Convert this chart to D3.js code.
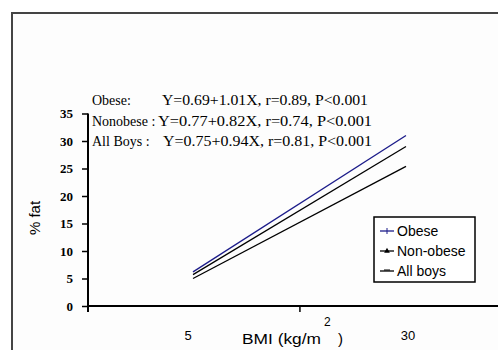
<!DOCTYPE html>
<html><head><meta charset="utf-8">
<script src="https://cdn.jsdelivr.net/npm/d3@7"></script>
<style>html,body{margin:0;padding:0;background:#fff;}svg{display:block;}</style>
</head><body>
<svg id="c" width="498" height="350"></svg>
<script>
// ---- data ----
const seriesNames = ["Obese", "Non-obese", "All boys"];
const bmi = [5, 30];
const obeseFat = [6.2, 31.0];
const nonObeseFat = [5.0, 25.4];
const allBoysFat = [5.7, 29.0];
const seriesColors = ["#1c1c8a", "#000000", "#000000"];
const yTicks = [0, 5, 10, 15, 20, 25, 30, 35];
const xTickLabels = [5, 30];
const eqNames = ["Obese:", "Nonobese :", "All Boys :"];
const eqTexts = ["Y=0.69+1.01X, r=0.89, P<0.001", "Y=0.77+0.82X, r=0.74, P<0.001", "Y=0.75+0.94X, r=0.81, P<0.001"];

const svg = d3.select("#c");
// outer frame
svg.append("rect").attr("x", 12).attr("y", 13).attr("width", 500).attr("height", 350)
  .attr("fill", "#fdfdfd").attr("stroke", "#444").attr("stroke-width", 2);

const x = d3.scaleLinear().domain([5, 30]).range([193, 406]);
const y = d3.scaleLinear().domain([0, 35]).range([306, 113.5]);
const axisX = 88;

// y axis
const yAxis = d3.axisLeft(y).tickValues(yTicks).tickSize(6).tickFormat(d3.format("d"));
const ga = svg.append("g").attr("transform", `translate(${axisX},0)`).call(yAxis);
ga.select(".domain").remove();
ga.selectAll(".tick line").attr("stroke", "#000").attr("stroke-width", 1.5);
ga.selectAll(".tick text").attr("x", -15).attr("font-family", "Liberation Serif, serif")
  .attr("font-weight", "bold").attr("font-size", 13).attr("fill", "#000");
svg.append("line").attr("x1", axisX).attr("x2", axisX).attr("y1", y(35)).attr("y2", y(0) + 6)
  .attr("stroke", "#000").attr("stroke-width", 2);

// x axis
svg.append("line").attr("x1", axisX).attr("x2", 498).attr("y1", y(0)).attr("y2", y(0))
  .attr("stroke", "#000").attr("stroke-width", 2);
svg.append("line").attr("x1", x(17.55)).attr("x2", x(17.55)).attr("y1", y(0)).attr("y2", y(0) + 6)
  .attr("stroke", "#000").attr("stroke-width", 1.5);
svg.selectAll(".xl").data(xTickLabels).enter().append("text")
  .attr("x", d => x(d) + (d === 5 ? -5 : 2)).attr("y", 340).attr("text-anchor", "middle")
  .attr("font-family", "Liberation Sans, Arial, sans-serif").attr("font-size", 13).text(d => d);

// axis titles
svg.append("text").attr("transform", "translate(40,218) rotate(-90)").attr("text-anchor", "middle")
  .attr("font-family", "Liberation Sans, Arial, sans-serif").attr("font-size", 15).text("% fat");
const sansFont = "Liberation Sans, Arial, sans-serif";
svg.append("text").attr("x", 242).attr("y", 344).attr("font-family", sansFont).attr("font-size", 15)
  .attr("textLength", 79).attr("lengthAdjust", "spacingAndGlyphs").text("BMI (kg/m");
svg.append("text").attr("x", 324).attr("y", 326).attr("font-family", sansFont).attr("font-size", 12).text("2");
svg.append("text").attr("x", 338).attr("y", 344).attr("font-family", sansFont).attr("font-size", 15).text(")");

// series lines
const seriesData = [obeseFat, nonObeseFat, allBoysFat];
const line = d3.line().x((d, i) => x(bmi[i])).y(d => y(d));
svg.selectAll(".s").data(seriesData).enter().append("path")
  .attr("d", d => line(d)).attr("fill", "none")
  .attr("stroke", (d, i) => seriesColors[i]).attr("stroke-width", 1.3);

// equations
const eqY = [100, 121, 141];
const eqX = [162, 158, 163];
const eqEnd = [368, 372, 372];
eqNames.forEach((n, i) => {
  svg.append("text").attr("x", 92).attr("y", eqY[i] + 5).attr("font-family", "Liberation Serif, serif")
    .attr("font-size", 14).text(n);
  svg.append("text").attr("x", eqX[i]).attr("y", eqY[i] + 5).attr("font-family", "Liberation Serif, serif")
    .attr("font-size", 14).attr("textLength", eqEnd[i] - eqX[i]).attr("lengthAdjust", "spacingAndGlyphs")
    .text(eqTexts[i]);
});

// legend
const lg = svg.append("g");
lg.append("rect").attr("x", 374).attr("y", 217).attr("width", 101).attr("height", 65)
  .attr("fill", "#fff").attr("stroke", "#000").attr("stroke-width", 1.5);
const ly = [231, 251, 271];
seriesNames.forEach((n, i) => {
  lg.append("line").attr("x1", 380).attr("x2", 394).attr("y1", ly[i]).attr("y2", ly[i])
    .attr("stroke", seriesColors[i]).attr("stroke-width", 1.3);
  if (i === 0) lg.append("line").attr("x1", 387).attr("x2", 387).attr("y1", ly[i] - 3).attr("y2", ly[i] + 3).attr("stroke", seriesColors[i]);
  if (i === 1) lg.append("path").attr("d", d3.symbol(d3.symbolTriangle, 14)()).attr("transform", `translate(387,${ly[i]})`).attr("fill", "#000");
  if (i === 2) lg.append("line").attr("x1", 384).attr("x2", 390).attr("y1", ly[i] - 1).attr("y2", ly[i] - 1).attr("stroke", "#000");
  lg.append("text").attr("x", 397).attr("y", ly[i] + 5)
    .attr("font-family", "Liberation Sans Narrow, Arial Narrow, Liberation Sans, sans-serif")
    .attr("font-size", 14).text(n);
});
</script>
</body></html>
